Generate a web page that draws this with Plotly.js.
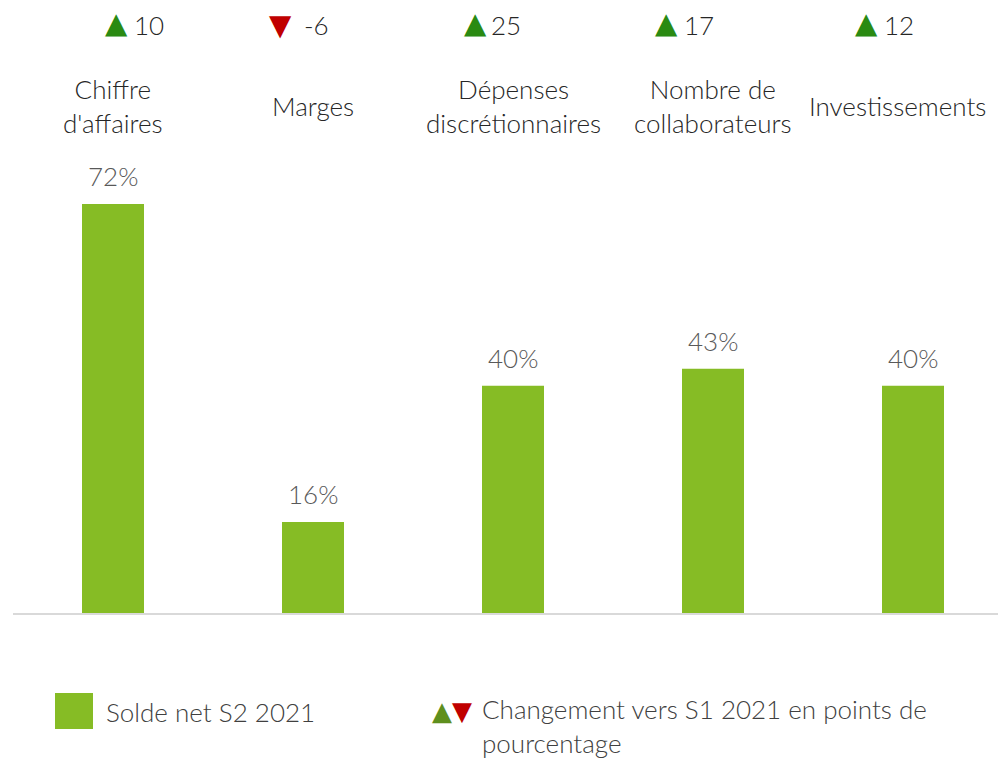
<!DOCTYPE html>
<html>
<head>
<meta charset="utf-8">
<script src="https://cdn.plot.ly/plotly-3.0.1.min.js"></script>
<style>html,body{margin:0;padding:0;background:#fff;}#chart{width:998px;height:759px;}</style>
</head>
<body>
<div id="chart"></div>
<script>
const categories = ["Chiffre<br>d'affaires", "Marges", "Dépenses<br>discrétionnaires", "Nombre de<br>collaborateurs", "Investissements"];
const soldeNet = [72, 16, 40, 43, 40];
const changement = [10, -6, 25, 17, 12];
const seriesName = "Solde net S2 2021";
const changeName = "Changement vers S1 2021 en points de<br>pourcentage";

// layout-only pixel offsets relative to each category centre
const triOffsetPx = [3, -33, -38, -47, -47];
const numOffsetPx = [19, -11, -24, -31, -31];
const labelOffsetPx = [0, 0, 0, 0, -16];

const FONT = "Lato, 'Open Sans', sans-serif";
const GREEN_BAR = "#86BC25";
const UP = "#2A8A12";
const DOWN = "#C00000";
const FS = 26;

const xIdx = categories.map((_, i) => i);

const trace = {
  type: "bar",
  x: xIdx,
  y: soldeNet,
  width: 0.31,
  marker: {color: GREEN_BAR},
  name: seriesName,
  showlegend: false,
  hoverinfo: "skip"
};

const H = 463; // plot height in px
const py = (px) => (613 - px) / H;
const pxX = (px) => (px - 13) / 985;

const annotations = [];
categories.forEach((c, i) => {
  annotations.push({
    x: i, xref: "x", xshift: labelOffsetPx[i], y: py(106), yref: "paper", yanchor: "middle", xanchor: "center",
    text: c, showarrow: false, font: {family: FONT, size: FS, color: "#262626", weight: 300}
  });
  const v = changement[i];
  const tri = v >= 0 ? "▲" : "▼";
  annotations.push({
    x: i, xref: "x", xshift: triOffsetPx[i], y: py(v >= 0 ? 23 : 25), yref: "paper", yanchor: "middle", xanchor: "center",
    text: tri, showarrow: false, font: {family: "DejaVu Sans", size: 29, color: v >= 0 ? UP : DOWN}
  });
  annotations.push({
    x: i, xref: "x", xshift: numOffsetPx[i], y: py(25), yref: "paper", yanchor: "middle", xanchor: "left",
    text: String(v), showarrow: false, font: {family: FONT, size: FS, color: "#262626", weight: 300}
  });
  annotations.push({
    x: i, xref: "x", y: soldeNet[i], yref: "y", yanchor: "bottom", xanchor: "center", yshift: 10,
    text: soldeNet[i] + "%", showarrow: false, font: {family: FONT, size: FS, color: "#595959", weight: 300}
  });
});

// legend
annotations.push({
  x: pxX(104), xref: "paper", y: py(712), yref: "paper", xanchor: "left", yanchor: "middle",
  text: seriesName, showarrow: false, font: {family: FONT, size: FS, color: "#404040", weight: 300}
});
annotations.push({
  x: pxX(430), xref: "paper", y: py(711), yref: "paper", xanchor: "left", yanchor: "middle",
  text: `<span style="color:#5E8F1E">▲</span><span style="color:${DOWN}">▼</span>`, showarrow: false,
  font: {family: "DejaVu Sans", size: 26, color: "#404040"}
});
annotations.push({
  x: pxX(480), xref: "paper", y: py(726), yref: "paper", xanchor: "left", yanchor: "middle", align: "left",
  text: changeName, showarrow: false, font: {family: FONT, size: FS, color: "#404040", weight: 300}
});

const layout = {
  width: 998, height: 759,
  margin: {l: 13, r: 0, t: 150, b: 146},
  paper_bgcolor: "#fff", plot_bgcolor: "#fff",
  showlegend: false,
  xaxis: {range: [-0.5, 4.425], showticklabels: false, showgrid: false, zeroline: false,
          showline: true, linecolor: "#D9D9D9", linewidth: 2, ticks: ""},
  yaxis: {range: [0, 463 / 5.68], visible: false, showgrid: false, zeroline: false},
  annotations: annotations,
  shapes: [{type: "rect", xref: "paper", yref: "paper", x0: pxX(55), x1: pxX(93), y0: py(729), y1: py(693),
            fillcolor: GREEN_BAR, line: {width: 0}}],
  font: {family: FONT}
};

Plotly.newPlot("chart", [trace], layout, {staticPlot: true, displayModeBar: false});
</script>
</body>
</html>
